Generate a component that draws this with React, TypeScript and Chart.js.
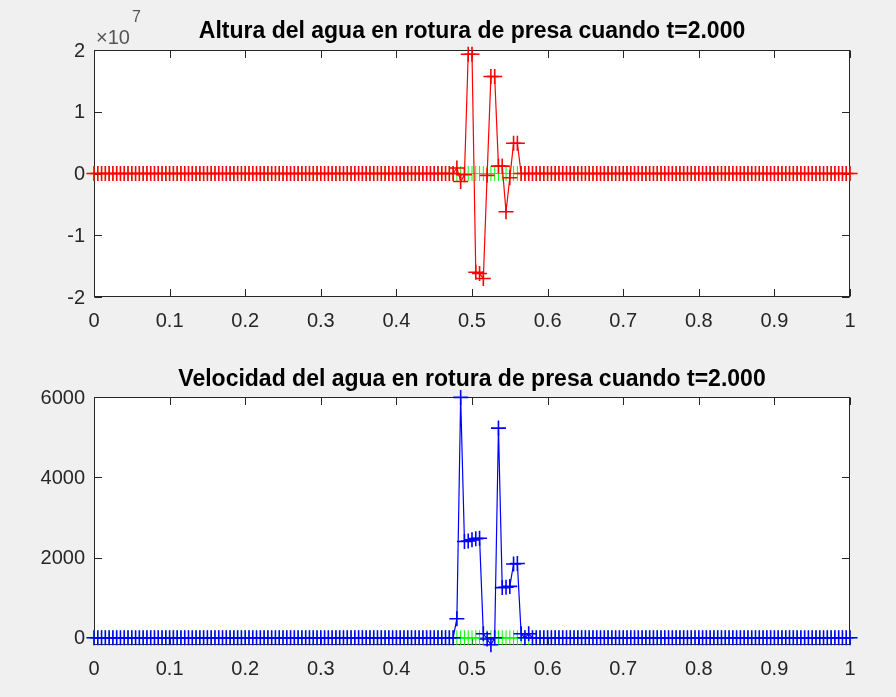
import React, { useEffect, useRef } from "react";
import { Chart, registerables } from "chart.js";

Chart.register(...registerables);

// ---------------- data ----------------
const titleAltura = "Altura del agua en rotura de presa cuando t=2.000";
const titleVelocidad = "Velocidad del agua en rotura de presa cuando t=2.000";

// spatial grid of the solution (x from 0 to 1, step 0.005)
const gridStart = 0;
const gridStep = 0.005;
const gridCount = 201;

// cells where the computed solution departs from its flat level
const bumpX = [0.475, 0.48, 0.485, 0.49, 0.495, 0.5, 0.505, 0.51, 0.515, 0.52, 0.525, 0.53, 0.535, 0.54, 0.545, 0.55, 0.555, 0.56, 0.565, 0.57, 0.575, 0.58];
const alturaBump = [0, 0.09e7, -0.13e7, -0.02e7, 1.93e7, 1.93e7, -1.6e7, -1.62e7, -1.7e7, -0.03e7, 1.57e7, 1.57e7, 0.12e7, 0.12e7, -0.62e7, -0.07e7, 0.49e7, 0.49e7, 0, 0, 0, 0];
const velocidadBump = [0, 475, 5990, 2400, 2410, 2440, 2470, 2480, 100, -30, -175, 0, 5225, 1250, 1260, 1280, 1840, 1850, 100, 0, 100, 0];
const alturaFlat = 0;
const velocidadFlat = 0;
// green reference series (flat at the plotted scale)
const referenciaValue = 0;

const xTicks = [0, 0.1, 0.2, 0.3, 0.4, 0.5, 0.6, 0.7, 0.8, 0.9, 1];
const xTickLabels = ["0", "0.1", "0.2", "0.3", "0.4", "0.5", "0.6", "0.7", "0.8", "0.9", "1"];
const alturaTicks = [-2e7, -1e7, 0, 1e7, 2e7];
const alturaTickLabels = ["-2", "-1", "0", "1", "2"];
const velocidadTicks = [0, 2000, 4000, 6000];
const velocidadTickLabels = ["0", "2000", "4000", "6000"];

// ---------------- helpers ----------------
const W = 896;
const H = 697;
const FONT = "'Liberation Sans', Arial, Helvetica, sans-serif";
const AXIS_COLOR = "#262626";

const gridX: number[] = [];
for (let i = 0; i < gridCount; i++) gridX.push(Math.round((gridStart + i * gridStep) * 1000) / 1000);

function seriesFrom(bump: number[], flat: number) {
  return gridX.map((x) => {
    const k = bumpX.findIndex((b) => Math.abs(b - x) < 1e-9);
    return { x, y: k >= 0 ? bump[k] : flat };
  });
}

type PanelCfg = {
  top: number;
  bottom: number;
  left: number;
  right: number;
  yMin: number;
  yMax: number;
  yTicks: number[];
  yLabels: string[];
  title: string;
  titleY: number;
  color: string;
  values: { x: number; y: number }[];
  exponent?: string;
};

function makePlugin(cfg: PanelCfg) {
  return {
    id: "matlabAxes",
    beforeDraw(chart: any) {
      const { ctx, chartArea: a } = chart;
      ctx.save();
      ctx.fillStyle = "#ffffff";
      ctx.fillRect(a.left, a.top, a.right - a.left, a.bottom - a.top);
      ctx.restore();
    },
    beforeDatasetsDraw(chart: any) {
      const { ctx, chartArea: a } = chart;
      const xs = chart.scales.x;
      const ys = chart.scales.y;
      const tl = 7.5;
      ctx.save();
      ctx.strokeStyle = AXIS_COLOR;
      ctx.lineWidth = 1;
      const L = Math.round(a.left) + 0.5;
      const R = Math.round(a.right) - 0.5;
      const T = Math.round(a.top) + 0.5;
      const B = Math.round(a.bottom) - 0.5;
      ctx.strokeRect(L, T, R - L, B - T);
      ctx.beginPath();
      xTicks.forEach((v) => {
        const px = Math.round(xs.getPixelForValue(v)) + 0.5;
        ctx.moveTo(px, B);
        ctx.lineTo(px, B - tl);
        ctx.moveTo(px, T);
        ctx.lineTo(px, T + tl);
      });
      cfg.yTicks.forEach((v) => {
        const py = Math.round(ys.getPixelForValue(v)) + 0.5;
        ctx.moveTo(L, py);
        ctx.lineTo(L + tl, py);
        ctx.moveTo(R, py);
        ctx.lineTo(R - tl, py);
      });
      ctx.stroke();
      ctx.restore();
    },
    afterDraw(chart: any) {
      const { ctx, chartArea: a } = chart;
      const xs = chart.scales.x;
      const ys = chart.scales.y;
      ctx.save();
      ctx.fillStyle = AXIS_COLOR;
      ctx.font = `20px ${FONT}`;
      ctx.textAlign = "center";
      ctx.textBaseline = "middle";
      xTicks.forEach((v, i) => {
        ctx.fillText(xTickLabels[i], xs.getPixelForValue(v), a.bottom + 24);
      });
      ctx.textAlign = "right";
      cfg.yTicks.forEach((v, i) => {
        ctx.fillText(cfg.yLabels[i], a.left - 9, ys.getPixelForValue(v) + 1);
      });
      if (cfg.exponent) {
        ctx.textAlign = "left";
        ctx.textBaseline = "alphabetic";
        ctx.font = `20px ${FONT}`;
        ctx.fillStyle = "#555555";
        const base = "\u00d710";
        ctx.fillText(base, a.left + 2, a.top - 6);
        const w = ctx.measureText(base).width;
        ctx.font = `16px ${FONT}`;
        ctx.fillText(cfg.exponent, a.left + 4 + w, a.top - 28);
      }
      ctx.fillStyle = "#000000";
      ctx.font = `bold 23px ${FONT}`;
      ctx.textAlign = "center";
      ctx.textBaseline = "middle";
      ctx.fillText(cfg.title, (a.left + a.right) / 2, cfg.titleY);
      ctx.restore();
    },
  };
}

function Panel({ cfg }: { cfg: PanelCfg }) {
  const ref = useRef<HTMLCanvasElement>(null);
  useEffect(() => {
    if (!ref.current) return;
    const mk = (data: { x: number; y: number }[], color: string, pw: number, order: number) => ({
      data,
      order,
      borderColor: color,
      backgroundColor: color,
      borderWidth: 1.2,
      pointStyle: "cross" as const,
      pointRadius: 7.5,
      pointBorderWidth: pw,
      pointBorderColor: color,
      pointBackgroundColor: color,
      fill: false,
      tension: 0,
      clip: false as any,
    });
    const referencia = gridX.map((x) => ({ x, y: referenciaValue }));
    const chart = new Chart(ref.current, {
      type: "line",
      data: {
        // main series first so it is painted over the green reference
        datasets: [mk(cfg.values, cfg.color, 1.6, 0), mk(referencia, "#00ff00", 1, 1)],
      },
      options: {
        animation: false,
        responsive: false,
        events: [],
        layout: { padding: { left: 0, right: W - cfg.right, top: cfg.top, bottom: 0 } },
        plugins: { legend: { display: false }, tooltip: { enabled: false }, title: { display: false } },
        scales: {
          x: {
            type: "linear",
            min: 0,
            max: 1,
            grid: { display: false },
            border: { display: false },
            ticks: { display: false },
            afterFit: (s: any) => {
              s.height = H - cfg.bottom;
            },
          },
          y: {
            type: "linear",
            min: cfg.yMin,
            max: cfg.yMax,
            grid: { display: false },
            border: { display: false },
            ticks: { display: false },
            afterFit: (s: any) => {
              s.width = cfg.left;
            },
          },
        },
      },
      plugins: [makePlugin(cfg)],
    });
    return () => chart.destroy();
  }, [cfg]);
  return (
    <canvas
      ref={ref}
      width={W}
      height={H}
      style={{ position: "absolute", left: 0, top: 0, width: W, height: H }}
    />
  );
}

const alturaCfg: PanelCfg = {
  top: 50,
  bottom: 297,
  left: 94,
  right: 850,
  yMin: -2e7,
  yMax: 2e7,
  yTicks: alturaTicks,
  yLabels: alturaTickLabels,
  title: titleAltura,
  titleY: 32,
  color: "#ff0000",
  values: seriesFrom(alturaBump, alturaFlat),
  exponent: "7",
};

const velocidadCfg: PanelCfg = {
  top: 397,
  bottom: 645,
  left: 94,
  right: 850,
  yMin: -180,
  yMax: 6000,
  yTicks: velocidadTicks,
  yLabels: velocidadTickLabels,
  title: titleVelocidad,
  titleY: 380,
  color: "#0000ff",
  values: seriesFrom(velocidadBump, velocidadFlat),
};

export default function App() {
  return (
    <div
      style={{
        position: "fixed",
        left: 0,
        top: 0,
        width: W,
        height: H,
        background: "#f0f0f0",
        overflow: "hidden",
      }}
    >
      <Panel cfg={velocidadCfg} />
      <Panel cfg={alturaCfg} />
    </div>
  );
}
